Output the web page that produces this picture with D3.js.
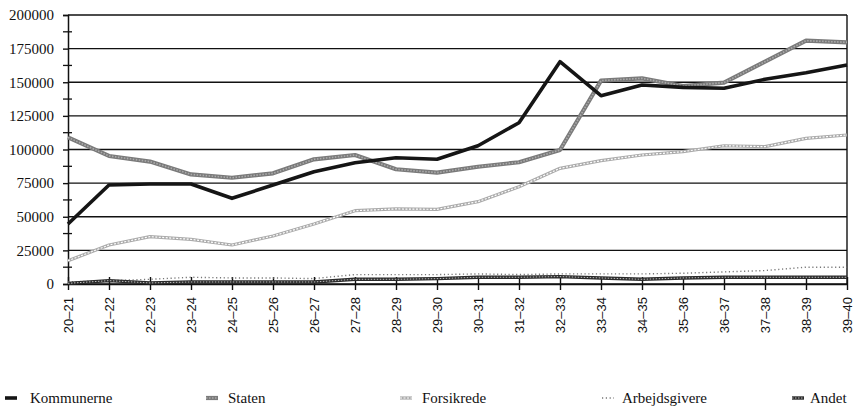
<!DOCTYPE html>
<html>
<head>
<meta charset="utf-8">
<script src="https://cdn.jsdelivr.net/npm/d3@7"></script>
<style>
  html, body { margin: 0; padding: 0; background: #fff; }
  svg { display: block; }
</style>
</head>
<body>
<svg id="chart" width="855" height="408"></svg>
<script>
const categories = ["20–21","21–22","22–23","23–24","24–25","25–26","26–27","27–28","28–29","29–30",
                    "30–31","31–32","32–33","33–34","34–35","35–36","36–37","37–38","38–39","39–40"];
const kommunerne   = [44600, 73600, 74300, 74300, 63700, 73600, 83500, 90200, 93900, 92700,
                      102800, 119900, 165300, 140000, 148000, 146200, 145500, 152200, 157100, 162800];
const staten       = [109000, 95200, 91000, 81500, 79000, 82300, 92700, 95900, 85300, 82800,
                      87200, 90500, 99600, 151200, 152900, 147200, 149700, 165300, 180900, 179700];
const forsikrede   = [17300, 29000, 35200, 33200, 29000, 35700, 44600, 54500, 55800, 55500,
                      61200, 72300, 86000, 91700, 95900, 98400, 102800, 102100, 108300, 110800];
const arbejdsgivere = [1500, 2500, 3500, 5000, 4500, 4500, 4000, 7000, 7000, 7000,
                       7500, 7000, 7500, 7500, 7500, 8000, 9000, 10000, 12500, 12500];
const andet        = [500, 2500, 800, 1500, 1500, 1500, 1500, 3500, 3500, 4000,
                      5000, 5000, 5500, 4500, 3500, 4500, 5000, 5000, 5000, 5000];
const yTicks = [0, 25000, 50000, 75000, 100000, 125000, 150000, 175000, 200000];
const yMinorTicks = [12500, 37500, 62500, 87500, 112500, 137500, 162500, 187500];
const seriesNames = ["Kommunerne", "Staten", "Forsikrede", "Arbejdsgivere", "Andet"];

const svg = d3.select("#chart");
const L = 68, R = 847, T = 15, B = 284;

const x = d3.scalePoint().domain(categories).range([L, R]).padding(0);
const y = d3.scaleLinear().domain([0, 200000]).range([B, T]);

// gridlines
svg.append("g").selectAll("line").data(yTicks).join("line")
  .attr("x1", L).attr("x2", R)
  .attr("y1", d => y(d)).attr("y2", d => y(d))
  .attr("stroke", "#111").attr("stroke-width", 1.4);

// right border
svg.append("line").attr("x1", R).attr("x2", R).attr("y1", T).attr("y2", B)
  .attr("stroke", "#111").attr("stroke-width", 1.4);

// y axis
const yAxis = d3.axisLeft(y).tickValues(yTicks).tickSize(5).tickPadding(9).tickFormat(d3.format("d"));
const gy = svg.append("g").attr("transform", `translate(${L},0)`).call(yAxis);
gy.select(".domain").attr("stroke", "#111").attr("stroke-width", 1.5);
gy.selectAll(".tick line").attr("stroke", "#111").attr("stroke-width", 1.4);
gy.selectAll("text").attr("font-family", "'Liberation Serif', 'Times New Roman', serif")
  .attr("font-size", 15).attr("fill", "#111");
svg.append("g").selectAll("line").data(yMinorTicks).join("line")
  .attr("x1", L - 5).attr("x2", L + 4)
  .attr("y1", d => y(d)).attr("y2", d => y(d))
  .attr("stroke", "#111").attr("stroke-width", 1.3);

// x axis
const xAxis = d3.axisBottom(x).tickSizeInner(6).tickSizeOuter(0).tickPadding(8);
const gx = svg.append("g").attr("transform", `translate(0,${B})`).call(xAxis);
gx.select(".domain").attr("stroke", "#111").attr("stroke-width", 1.6);
gx.selectAll(".tick line").attr("stroke", "#111").attr("stroke-width", 1.4).attr("y1", -7);
gx.selectAll("text")
  .attr("font-family", "'Liberation Sans', Arial, sans-serif")
  .attr("font-size", 13).attr("fill", "#111")
  .attr("transform", "rotate(-90)")
  .attr("text-anchor", "end")
  .attr("x", -13).attr("y", 0).attr("dy", "0.35em");

const line = d3.line().x((d, i) => x(categories[i])).y(d => y(d));

// styles: array of stroke layers
const styles = {
  "Arbejdsgivere": [{stroke: "#777", w: 1.4, dash: "1.2,2.6"}],
  "Andet": [{stroke: "#2a2a2a", w: 3.4}, {stroke: "#bdbdbd", w: 1, dash: "1.5,1.5"}],
  "Forsikrede": [{stroke: "#ababab", w: 3.2}, {stroke: "#fff", w: 1.2, dash: "2,1.5"}],
  "Staten": [{stroke: "#7a7a7a", w: 4.2}, {stroke: "#ababab", w: 1.6, dash: "1.5,1.5"}],
  "Kommunerne": [{stroke: "#151515", w: 3.6}]
};
const seriesData = {
  "Kommunerne": kommunerne, "Staten": staten, "Forsikrede": forsikrede,
  "Arbejdsgivere": arbejdsgivere, "Andet": andet
};
["Arbejdsgivere", "Andet", "Forsikrede", "Staten", "Kommunerne"].forEach(name => {
  styles[name].forEach(s => {
    svg.append("path").datum(seriesData[name])
      .attr("d", line).attr("fill", "none")
      .attr("stroke", s.stroke).attr("stroke-width", s.w)
      .attr("stroke-dasharray", s.dash || null)
      .attr("stroke-linejoin", "round");
  });
});

// legend
const legendX = [{sx: 5, tx: 30}, {sx: 206, tx: 228}, {sx: 400, tx: 422}, {sx: 602, tx: 622}, {sx: 792, tx: 810}];
const legY = 398;
seriesNames.forEach((name, i) => {
  const p = legendX[i];
  const w = 12;
  styles[name].forEach(s => {
    svg.append("line").attr("x1", p.sx).attr("x2", p.sx + w)
      .attr("y1", legY).attr("y2", legY)
      .attr("stroke", s.stroke).attr("stroke-width", s.w)
      .attr("stroke-dasharray", s.dash || null);
  });
  svg.append("text").attr("x", p.tx).attr("y", legY).attr("dy", "0.35em")
    .attr("font-family", "'Liberation Serif', 'Times New Roman', serif")
    .attr("font-size", 15).attr("fill", "#111").text(name);
});
</script>
</body>
</html>
